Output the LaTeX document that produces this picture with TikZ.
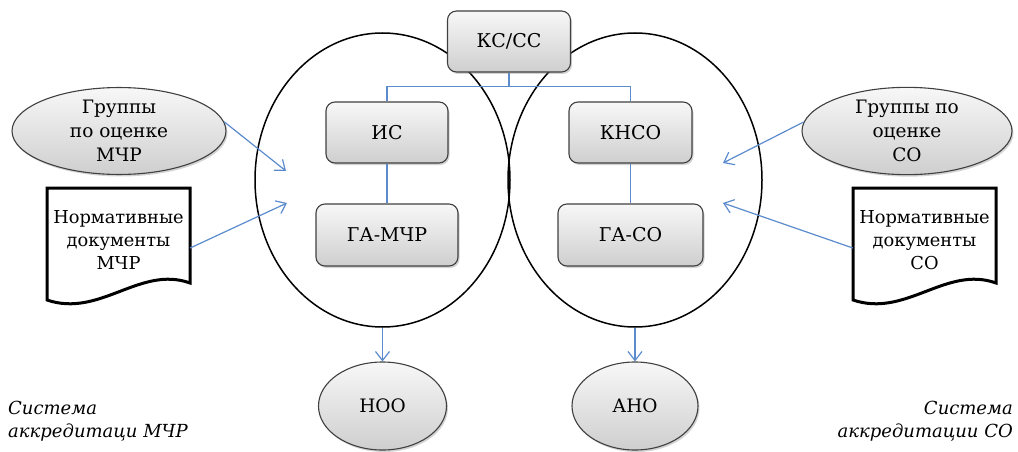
\documentclass[tikz,border=0pt]{standalone}
\usepackage{fontspec}
\setmainfont{DejaVu Serif}
\usetikzlibrary{shapes.geometric,arrows.meta,shadows}
\definecolor{connc}{RGB}{91,139,204}
\definecolor{bord}{RGB}{64,64,64}
\begin{document}
\begin{tikzpicture}[x=1pt,y=-1pt,
  shad/.style={drop shadow={shadow xshift=1.5pt,shadow yshift=-2pt,opacity=0.35,fill=gray}},
  box/.style={draw=bord, line width=1.1pt, rounded corners=9pt, top color=gray!6, bottom color=gray!38, shad,
    font=\fontsize{19}{23}\selectfont, inner sep=0pt},
  oval/.style={ellipse, draw=bord, line width=1.1pt, top color=gray!6, bottom color=gray!38, shad,
    font=\fontsize{18.5}{24}\selectfont, inner sep=0pt, align=center},
  conn/.style={draw=connc, line width=1.2pt},
  arr/.style={conn, -{Straight Barb[length=9pt,width=14pt]}},
  big/.style={ellipse, draw=black, line width=1.5pt, inner sep=0pt},
  doc/.style={line width=3pt, draw=black, line join=miter},
  doctext/.style={font=\fontsize{17.8}{23}\selectfont, align=center, inner sep=0pt, minimum width=143pt},
  lbl/.style={font=\fontsize{18}{23}\selectfont\itshape, inner sep=0pt}]
\useasboundingbox (0,0) rectangle (1018,452);

% large system ellipses
\node[big, minimum width=255pt, minimum height=294pt] (eL) at (382.5,180) {};
\node[big, minimum width=254pt, minimum height=294pt] (eR) at (635,180) {};

% boxes
\node[box, minimum width=123pt, minimum height=61pt] (ks) at (509,41.5) {КС/СС};
\node[box, minimum width=122pt, minimum height=61pt] (is) at (387,132.5) {ИС};
\node[box, minimum width=123pt, minimum height=61pt] (kn) at (630.5,132.5) {КНСО};
\node[box, minimum width=142pt, minimum height=62pt] (gam) at (387,235) {ГА-МЧР};
\node[box, minimum width=145pt, minimum height=62pt] (gas) at (630.5,235) {ГА-СО};

% group ellipses
\node[oval, minimum width=214pt, minimum height=84pt] (gl) at (119,131) {Группы\\по оценке\\МЧР};
\node[oval, minimum width=210pt, minimum height=84pt] (gr) at (907,131) {Группы по\\оценке\\СО};

% bottom ellipses
\node[oval, minimum width=128pt, minimum height=88pt] (noo) at (382.5,406) {НОО};
\node[oval, minimum width=126pt, minimum height=88pt] (ano) at (635,406) {АНО};

% documents
\draw[doc] (47,188) -- (190,188) -- (190,283) .. controls (140,265) and (100,318) .. (47,300) -- cycle;
\node[doctext] (dl) at (118.5,240) {Нормативные\\документы\\МЧР};
\draw[doc] (853,188) -- (996,188) -- (996,283) .. controls (946,265) and (906,318) .. (853,300) -- cycle;
\node[doctext] (dr) at (924.5,240) {Нормативные\\документы\\СО};

% free ends of input arrows
\coordinate (tL1) at (286,171);
\coordinate (tL2) at (287,203);
\coordinate (tR1) at (723,163);
\coordinate (tR2) at (723,203);

% connectors
\draw[conn] (is.north) -- ++(0,-15) coordinate (bl) -| (kn.north);
\draw[conn] (ks.south) -- (ks.south |- bl);
\draw[conn] (is) -- (gam);
\draw[conn] (kn) -- (gas);

\draw[arr] (gl.5) -- (tL1);
\draw[arr] ([yshift=-8pt]dl.east) -- (tL2);
\draw[arr] (gr.175) -- (tR1);
\draw[arr] ([yshift=-8pt]dr.west) -- (tR2);

\draw[arr] (eL.south) -- (noo.north);
\draw[arr] (eR.south) -- (ano.north);

% captions
\node[lbl, align=left, anchor=west] (sl) at (8,421) {Система\\аккредитаци МЧР};
\node[lbl, align=right, anchor=east] (sr) at (1013,421) {Система\\аккредитации СО};
\end{tikzpicture}
\end{document}
